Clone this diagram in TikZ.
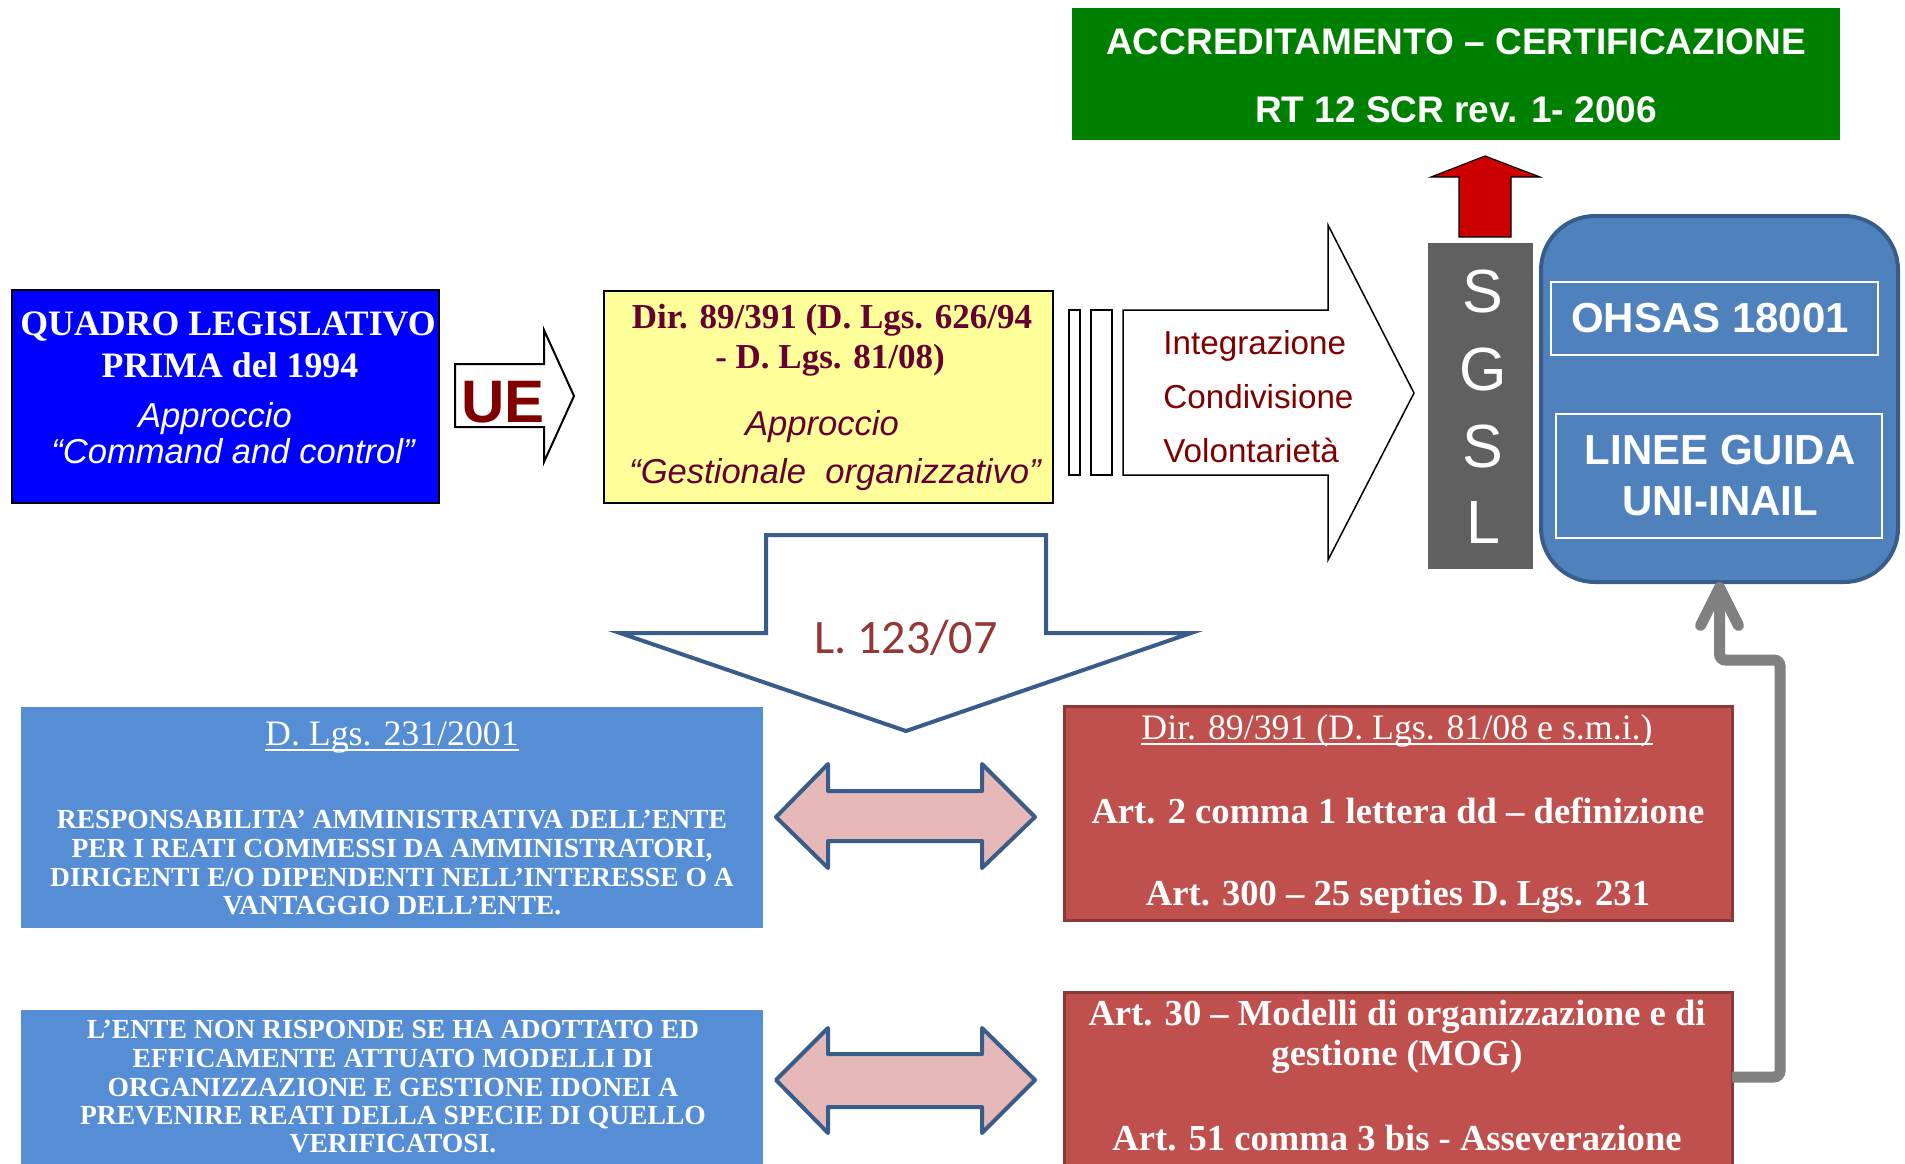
\documentclass[tikz,border=0pt]{standalone}
\usepackage{fontspec}
\setmainfont{Liberation Serif}
\setsansfont{Liberation Sans}
\newfontfamily\calibfont{Carlito}
\usetikzlibrary{arrows.meta}

\definecolor{qblue}{RGB}{0,0,255}
\definecolor{dyellow}{RGB}{255,255,153}
\definecolor{plum}{RGB}{102,0,51}
\definecolor{maroon}{RGB}{128,0,0}
\definecolor{accgreen}{RGB}{0,128,0}
\definecolor{arrred}{RGB}{204,0,0}
\definecolor{bargrey}{RGB}{96,96,96}
\definecolor{normblue}{RGB}{79,129,189}
\definecolor{normedge}{RGB}{56,93,138}
\definecolor{lawblue}{RGB}{85,142,213}
\definecolor{lawred}{RGB}{192,80,77}
\definecolor{lawredge}{RGB}{140,56,54}
\definecolor{pinkfill}{RGB}{230,185,184}
\definecolor{brick}{RGB}{149,55,53}
\definecolor{linkgrey}{RGB}{128,128,128}

\newcommand{\undl}[1]{\setbox0\hbox{#1}\rlap{\rule[-3pt]{\wd0}{0.9pt}}\box0}

\begin{document}
\begin{tikzpicture}[x=0.5pt,y=-0.5pt]
  \tikzstyle{box}=[rectangle,inner sep=0pt,outer sep=0pt]
  \tikzstyle{line}=[anchor=base,inner sep=0pt]
  \tikzstyle{blockarr}=[draw=black,fill=white,line width=0.75pt]
  \tikzstyle{dblarr}=[draw=normedge,fill=pinkfill,line width=2pt,line join=round]
  \tikzstyle{quadrot}=[line,text=white,font=\fontsize{17.9}{21}\selectfont\bfseries]
  \tikzstyle{appr}=[line,font=\fontsize{17.3}{20}\selectfont\sffamily\itshape]
  \tikzstyle{dirt}=[line,text=plum,font=\fontsize{17.5}{21}\selectfont\bfseries]
  \tikzstyle{valt}=[line,anchor=base west,text=maroon,font=\fontsize{16.6}{20}\selectfont\sffamily]
  \tikzstyle{acct}=[line,text=white,font=\fontsize{18.5}{22}\selectfont\sffamily\bfseries]
  \tikzstyle{lett}=[line,text=white,font=\fontsize{30.5}{36}\selectfont\sffamily]
  \tikzstyle{normt}=[line,text=white,font=\fontsize{21}{25}\selectfont\sffamily\bfseries]
  \tikzstyle{lawtitle}=[line,text=white,font=\fontsize{17.9}{21}\selectfont]
  \tikzstyle{lawt}=[line,text=white,font=\fontsize{13.8}{16}\selectfont\bfseries]
  \tikzstyle{redt}=[line,text=white,font=\fontsize{18.3}{22}\selectfont\bfseries]

  \useasboundingbox (0,0) rectangle (1905,1163);

  % top row
  \node[box,draw=black,line width=0.6pt,fill=qblue,minimum width=213.5pt,minimum height=106.5pt] (quadro) at (225.5,396.5) {};
  \node[quadrot] (quadro1) at (228,335) {QUADRO LEGISLATIVO};
  \node[quadrot] (quadro2) at (230,377) {PRIMA del 1994};
  \node[appr,text=white] (quadro3) at (215,427) {Approccio};
  \node[appr,text=white] (quadro4) at (233,463) {“Command and control”};

  \draw[blockarr,line width=1pt] (455,364) -- (544,364) -- (544,330) -- (574,396) -- (544,462) -- (544,427) -- (455,427) -- cycle;
  \node[line,text=maroon,font=\fontsize{30}{36}\selectfont\sffamily\bfseries] (ue) at (503,422) {UE};

  \node[box,draw=black,line width=1pt,fill=dyellow,minimum width=224.5pt,minimum height=106pt] (dir) at (828.5,397) {};
  \node[dirt] (dir1) at (832,328) {Dir. 89/391 (D. Lgs. 626/94};
  \node[dirt] (dir2) at (830,368) {- D. Lgs. 81/08)};
  \node[appr,text=plum] (dir3) at (822,435) {Approccio};
  \node[appr,text=plum] (dir4) at (835,483) {“Gestionale~ organizzativo”};

  \draw[blockarr] (1069,310) rectangle (1080,475);
  \draw[blockarr] (1091,310) rectangle (1112,475);
  \draw[blockarr] (1123,310) -- (1328,310) -- (1328,225) -- (1414,393) -- (1328,560) -- (1328,475) -- (1123,475) -- cycle;
  \node[valt] (integr) at (1163,354) {Integrazione};
  \node[valt] (condiv) at (1163,408) {Condivisione};
  \node[valt] (volont) at (1163,462) {Volontarietà};

  \node[box,fill=accgreen,minimum width=384pt,minimum height=66pt] (accr) at (1456,74) {};
  \node[acct] (accr1) at (1456,54) {ACCREDITAMENTO – CERTIFICAZIONE};
  \node[acct] (accr2) at (1456,122) {RT 12 SCR rev. 1- 2006};

  \draw[black,line width=0.6pt,fill=arrred] (1459,237) -- (1459,177) -- (1431,177) -- (1485,156) -- (1540,177) -- (1511,177) -- (1511,237) -- cycle;

  \node[box,fill=bargrey,minimum width=52.5pt,minimum height=163pt] (sgsl) at (1480.5,406) {};
  \node[lett] (sgsl1) at (1483,312) {S};
  \node[lett] (sgsl2) at (1483,390) {G};
  \node[lett] (sgsl3) at (1483,467) {S};
  \node[lett] (sgsl4) at (1483,543) {L};

  \node[box,draw=normedge,line width=2pt,fill=normblue,rounded corners=27pt,minimum width=178.5pt,minimum height=183pt] (norme) at (1719.5,399) {};
  \node[box,draw=white,line width=0.8pt,minimum width=163.5pt,minimum height=36.5pt] (ohsas) at (1714.5,318.5) {};
  \node[normt] (ohsas1) at (1710,332) {OHSAS 18001};
  \node[box,draw=white,line width=0.8pt,minimum width=163pt,minimum height=62pt] (linee) at (1719,476) {};
  \node[normt] (linee1) at (1720,464) {LINEE GUIDA};
  \node[normt] (linee2) at (1720,515) {UNI-INAIL};

  % L. 123/07
  \draw[draw=normedge,line width=2pt,fill=white] (766,535) -- (1046,535) -- (1046,633) -- (1191,633) -- (906,731) -- (620,633) -- (766,633) -- cycle;
  \node[line,text=brick,font=\fontsize{24}{28}\selectfont\calibfont] (legge) at (906,653) {L. 123/07};

  % bottom rows
  \node[box,fill=lawblue,minimum width=371pt,minimum height=110.5pt] (dlgs) at (392,817.5) {};
  \node[lawtitle] (dlgs0) at (392,745) {\undl{D. Lgs. 231/2001}};
  \node[lawt] (dlgs1) at (392,828) {RESPONSABILITA’ AMMINISTRATIVA DELL’ENTE};
  \node[lawt] (dlgs2) at (392,857) {PER I REATI COMMESSI DA AMMINISTRATORI,};
  \node[lawt] (dlgs3) at (392,886) {DIRIGENTI E/O DIPENDENTI NELL’INTERESSE O A};
  \node[lawt] (dlgs4) at (392,914) {VANTAGGIO DELL’ENTE.};

  \node[box,fill=lawblue,minimum width=371pt,minimum height=90pt] (ente) at (392,1100) {};
  \node[lawt] (ente1) at (393,1038) {L’ENTE NON RISPONDE SE HA ADOTTATO ED};
  \node[lawt] (ente2) at (393,1067) {EFFICAMENTE ATTUATO MODELLI DI};
  \node[lawt] (ente3) at (393,1096) {ORGANIZZAZIONE E GESTIONE IDONEI A};
  \node[lawt] (ente4) at (393,1124) {PREVENIRE REATI DELLA SPECIE DI QUELLO};
  \node[lawt] (ente5) at (393,1152) {VERIFICATOSI.};

  \draw[dblarr] (776,817) -- (828,764) -- (828,791) -- (982,791) -- (982,764) -- (1035,817) -- (982,868) -- (982,841) -- (828,841) -- (828,868) -- cycle;
  \draw[dblarr] (776,1080) -- (828,1028) -- (828,1054) -- (982,1054) -- (982,1028) -- (1035,1080) -- (982,1133) -- (982,1107) -- (828,1107) -- (828,1133) -- cycle;

  \node[box,draw=lawredge,line width=1.5pt,fill=lawred,minimum width=334pt,minimum height=107pt] (dir81) at (1398,813) {};
  \node[lawtitle] (dir810) at (1397,739) {\undl{Dir. 89/391 (D. Lgs. 81/08 e s.m.i.)}};
  \node[redt] (dir811) at (1398,823) {Art. 2 comma 1 lettera dd – definizione};
  \node[redt] (dir812) at (1398,905) {Art. 300 – 25 septies D. Lgs. 231};

  \node[box,draw=lawredge,line width=1.5pt,fill=lawred,minimum width=334pt,minimum height=91.5pt] (mog) at (1398,1083.5) {};
  \node[redt] (mog1) at (1397,1025) {Art. 30 – Modelli di organizzazione e di};
  \node[redt] (mog2) at (1397,1065) {gestione (MOG)};
  \node[redt] (mog3) at (1397,1150) {Art. 51 comma 3 bis - Asseverazione};

  \coordinate (bend) at (1780,660);
  \draw[linkgrey,line width=5.5pt,rounded corners=3pt,-{Straight Barb[length=19pt,width=19pt,round]}]
    ([yshift=3.25pt]mog.east) -| (bend) -| (norme.south);
\end{tikzpicture}
\end{document}
